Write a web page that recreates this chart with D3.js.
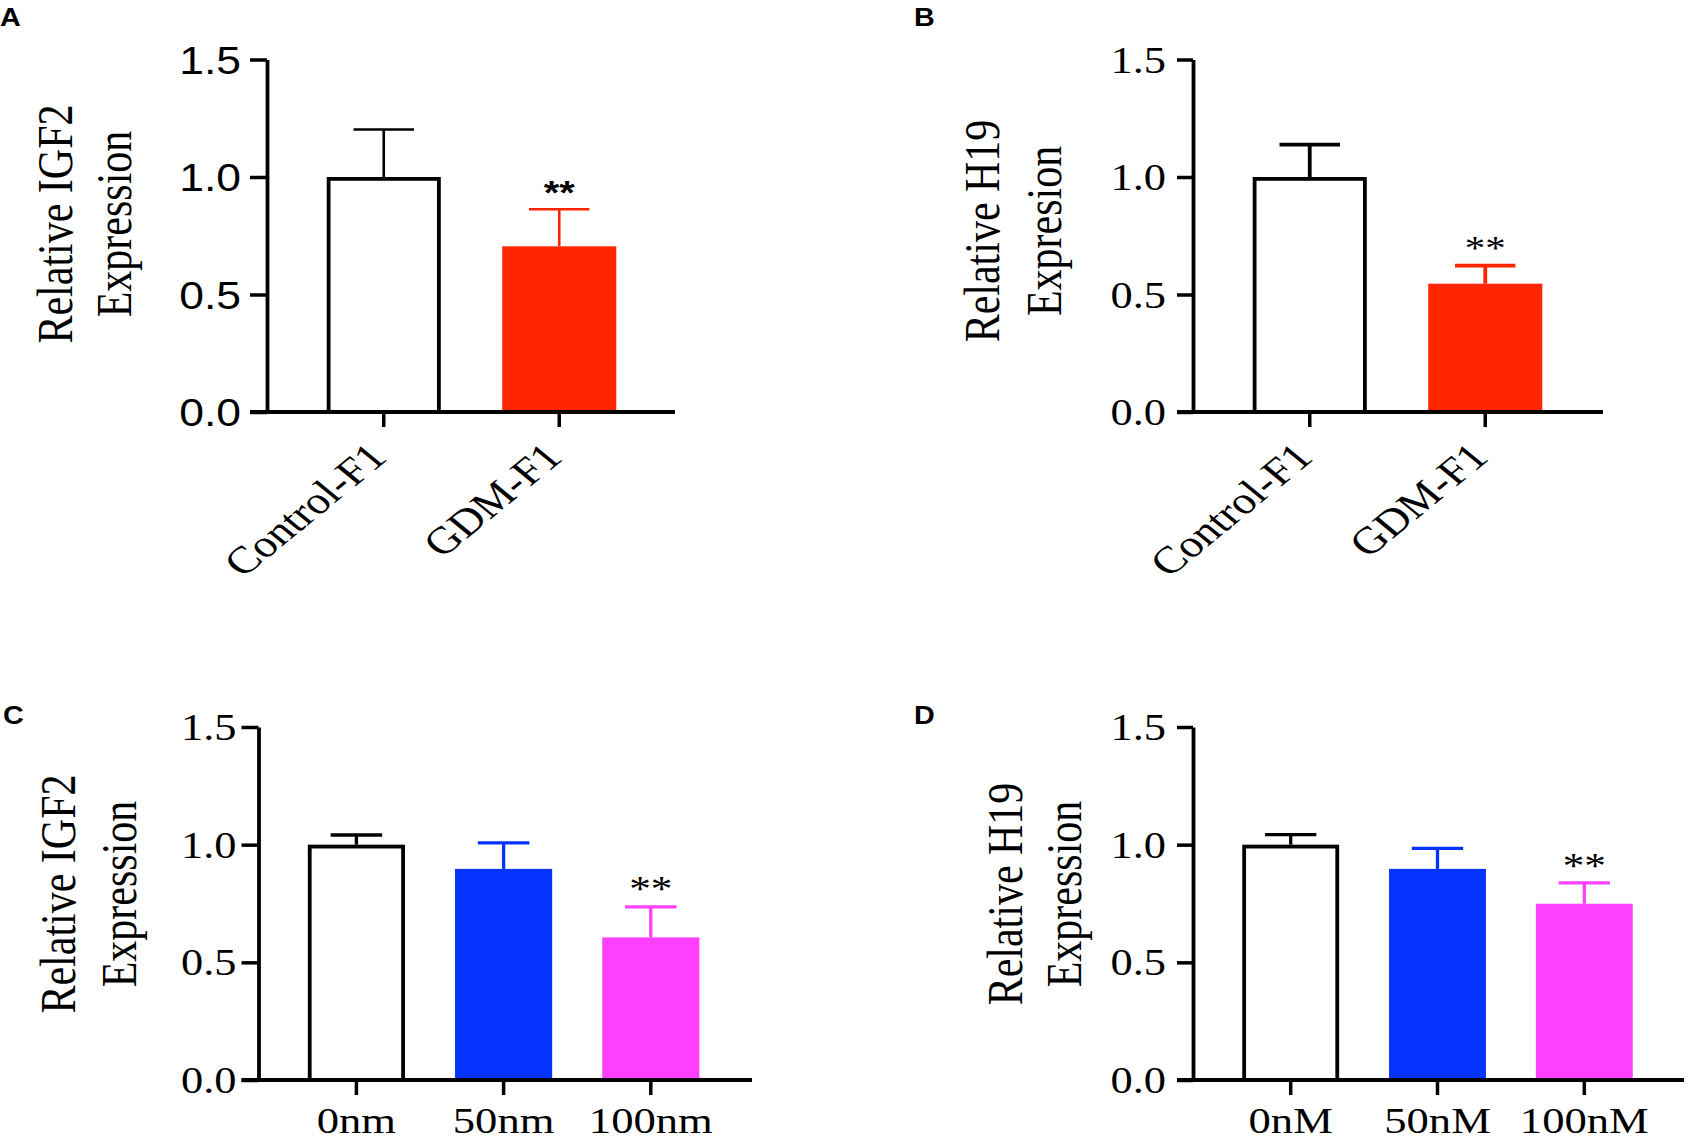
<!DOCTYPE html>
<html><head><meta charset="utf-8">
<script src="https://cdn.jsdelivr.net/npm/d3@7"></script>
<style>body{margin:0;background:#fff} svg{display:block}</style>
</head><body>
<svg id="c" width="1692" height="1142"></svg>
<script>
// ---------- data ----------
const yTicks = [0, 0.5, 1.0, 1.5];

const catsA = ["Control-F1", "GDM-F1"];
const valsA = [1.0, 0.705];
const errA  = [0.202, 0.158];
const sigA  = ["", "**"];
const ylabA = ["Relative IGF2", "Expression"];

const catsB = ["Control-F1", "GDM-F1"];
const valsB = [1.0, 0.546];
const errB  = [0.138, 0.077];
const sigB  = ["", "**"];
const ylabB = ["Relative H19", "Expresion"];

const catsC = ["0nm", "50nm", "100nm"];
const valsC = [1.0, 0.897, 0.606];
const errC  = [0.041, 0.111, 0.130];
const sigC  = ["", "", "**"];
const ylabC = ["Relative IGF2", "Expression"];

const catsD = ["0nM", "50nM", "100nM"];
const valsD = [1.0, 0.897, 0.749];
const errD  = [0.043, 0.087, 0.089];
const sigD  = ["", "", "**"];
const ylabD = ["Relative H19", "Expression"];

// ---------- styles ----------
const colors2 = ["#ffffff", "#ff2600"];
const colors3 = ["#ffffff", "#0433ff", "#ff40ff"];
const SERIF = "'Liberation Serif','Times New Roman',serif";
const SANS = "'Liberation Sans',Arial,sans-serif";

const svg = d3.select("#c");

function panel(cfg) {
  const g = svg.append("g");
  const y = d3.scaleLinear().domain([0, 1.5]).range([cfg.y0, cfg.y1]);
  const x = d3.scaleBand().domain(cfg.cats).range(cfg.band)
              .paddingInner(cfg.pIn).paddingOuter(cfg.pOut);
  const bw = x.bandwidth();
  const sw = 3.8;

  // bars
  cfg.cats.forEach((c, i) => {
    const v = cfg.vals[i], col = cfg.colors[i];
    const white = col === "#ffffff";
    if (white) {
      g.append("rect")
        .attr("x", x(c) + sw / 2).attr("width", bw - sw)
        .attr("y", y(v) + sw / 2).attr("height", y(0) - y(v) - sw / 2)
        .attr("fill", "#fff").attr("stroke", "#000").attr("stroke-width", sw);
    } else {
      g.append("rect")
        .attr("x", x(c)).attr("width", bw)
        .attr("y", y(v)).attr("height", y(0) - y(v))
        .attr("fill", col);
    }
    // error bar
    const ec = white ? "#000" : col;
    const cx = x(c) + bw / 2;
    const top = y(v + cfg.errs[i]);
    const capW = bw * 0.53;
    g.append("line").attr("x1", cx).attr("x2", cx)
      .attr("y1", y(v)).attr("y2", top)
      .attr("stroke", ec).attr("stroke-width", cfg.ew);
    g.append("line").attr("x1", cx - capW / 2).attr("x2", cx + capW / 2)
      .attr("y1", top).attr("y2", top)
      .attr("stroke", ec).attr("stroke-width", cfg.ew);
    // significance
    if (cfg.sig[i]) {
      g.append("text").text(cfg.sig[i])
        .attr("transform", `translate(${cx},${top - cfg.sigOff}) scale(${cfg.sx},1)`)
        .attr("text-anchor", "middle")
        .attr("font-family", cfg.sigFont).attr("font-weight", cfg.sigWeight)
        .attr("font-size", cfg.sigSize).attr("fill", "#000");
    }
  });

  // y axis
  const ya = g.append("g").attr("transform", `translate(${cfg.axisX},0)`)
    .call(d3.axisLeft(y).tickValues(yTicks).tickSize(cfg.tickLen)
          .tickSizeOuter(0).tickFormat(d3.format(".1f")));
  ya.select(".domain").attr("stroke", "#000").attr("stroke-width", 3.8);
  ya.selectAll(".tick line").attr("stroke", "#000").attr("stroke-width", 3.5);
  ya.selectAll(".tick text")
    .attr("x", -(cfg.tickLen + cfg.gap) / cfg.sx)
    .attr("transform", `scale(${cfg.sx},1)`)
    .attr("dy", cfg.tickDy)
    .attr("font-family", cfg.tickFont).attr("font-size", cfg.tickSize)
    .attr("fill", "#000");

  // x axis
  g.append("line")
    .attr("x1", cfg.axisX - cfg.tickLen).attr("x2", cfg.xEnd)
    .attr("y1", y(0)).attr("y2", y(0))
    .attr("stroke", "#000").attr("stroke-width", 3.8);
  const xa = g.append("g").attr("transform", `translate(0,${y(0)})`)
    .call(d3.axisBottom(x).tickSize(15).tickSizeOuter(0));
  xa.select(".domain").remove();
  xa.selectAll(".tick text").remove();
  xa.selectAll(".tick line").attr("stroke", "#000").attr("stroke-width", 3.5);

  // x labels
  cfg.cats.forEach(c => {
    const cx = x(c) + bw / 2;
    if (cfg.rotate) {
      g.append("text").text(c)
        .attr("transform", `translate(${cx + cfg.xlDx},${cfg.xlY}) scale(${cfg.xlSx},1) rotate(-45)`)
        .attr("text-anchor", "end")
        .attr("font-family", SERIF).attr("font-size", cfg.xlSize).attr("fill", "#000");
    } else {
      g.append("text").text(c)
        .attr("transform", `translate(${cx},${cfg.xlY}) scale(${cfg.xlSx},1)`)
        .attr("text-anchor", "middle")
        .attr("font-family", SERIF).attr("font-size", cfg.xlSize).attr("fill", "#000");
    }
  });

  // y label
  cfg.ylab.forEach((t, i) => {
    g.append("text").text(t)
      .attr("transform", `translate(${cfg.ylX[i]},${cfg.ylY}) scale(1.2,1) rotate(-90)`)
      .attr("text-anchor", "middle")
      .attr("font-family", SERIF).attr("font-size", 42).attr("fill", "#000");
  });

  // panel letter
  g.append("text").text(cfg.letter)
    .attr("transform", `translate(${cfg.letterX},${cfg.letterY}) scale(1.15,1)`)
    .attr("font-family", SANS).attr("font-weight", "bold")
    .attr("font-size", 25).attr("fill", "#000");
}

panel({
  cats: catsA, vals: valsA, errs: errA, sig: sigA, ylab: ylabA, colors: colors2,
  y0: 412, y1: 59.5, axisX: 267, xEnd: 675, band: [296, 647], pIn: 0.35, pOut: 0.175,
  ew: 2.6, tickLen: 17, gap: 9, sx: 1.17, tickFont: SANS, tickSize: 38, tickDy: "0.36em",
  sigFont: SANS, sigWeight: "bold", sigSize: 34, sigOff: 5,
  rotate: true, xlDx: 5, xlY: 459, xlSize: 38, xlSx: 1.22,
  ylX: [72, 131], ylY: 224, letter: "A", letterX: 0, letterY: 26
});

panel({
  cats: catsB, vals: valsB, errs: errB, sig: sigB, ylab: ylabB, colors: colors2,
  y0: 412, y1: 59.5, axisX: 1193, xEnd: 1603, band: [1222, 1573], pIn: 0.35, pOut: 0.175,
  ew: 3.8, tickLen: 16, gap: 11, sx: 1.2, tickFont: SERIF, tickSize: 37, tickDy: "0.34em",
  sigFont: SERIF, sigWeight: "normal", sigSize: 34, sigOff: 7,
  rotate: true, xlDx: 5, xlY: 459, xlSize: 38, xlSx: 1.22,
  ylX: [999, 1061], ylY: 231, letter: "B", letterX: 914, letterY: 26
});

panel({
  cats: catsC, vals: valsC, errs: errC, sig: sigC, ylab: ylabC, colors: colors3,
  y0: 1080, y1: 727, axisX: 258.5, xEnd: 752, band: [282.8, 724.4], pIn: 0.34, pOut: 0.17,
  ew: 3.3, tickLen: 17, gap: 5, sx: 1.2, tickFont: SERIF, tickSize: 37, tickDy: "0.34em",
  sigFont: SERIF, sigWeight: "normal", sigSize: 36, sigOff: 6,
  rotate: false, xlY: 1133, xlSize: 36, xlSx: 1.24,
  ylX: [75, 136], ylY: 894, letter: "C", letterX: 3, letterY: 724
});

panel({
  cats: catsD, vals: valsD, errs: errD, sig: sigD, ylab: ylabD, colors: colors3,
  y0: 1080, y1: 727, axisX: 1193, xEnd: 1684, band: [1217.3, 1657.7], pIn: 0.34, pOut: 0.17,
  ew: 3.3, tickLen: 16, gap: 11, sx: 1.2, tickFont: SERIF, tickSize: 37, tickDy: "0.34em",
  sigFont: SERIF, sigWeight: "normal", sigSize: 36, sigOff: 5,
  rotate: false, xlY: 1133, xlSize: 36, xlSx: 1.24,
  ylX: [1022, 1081], ylY: 894, letter: "D", letterX: 914, letterY: 724
});
</script>
</body></html>
